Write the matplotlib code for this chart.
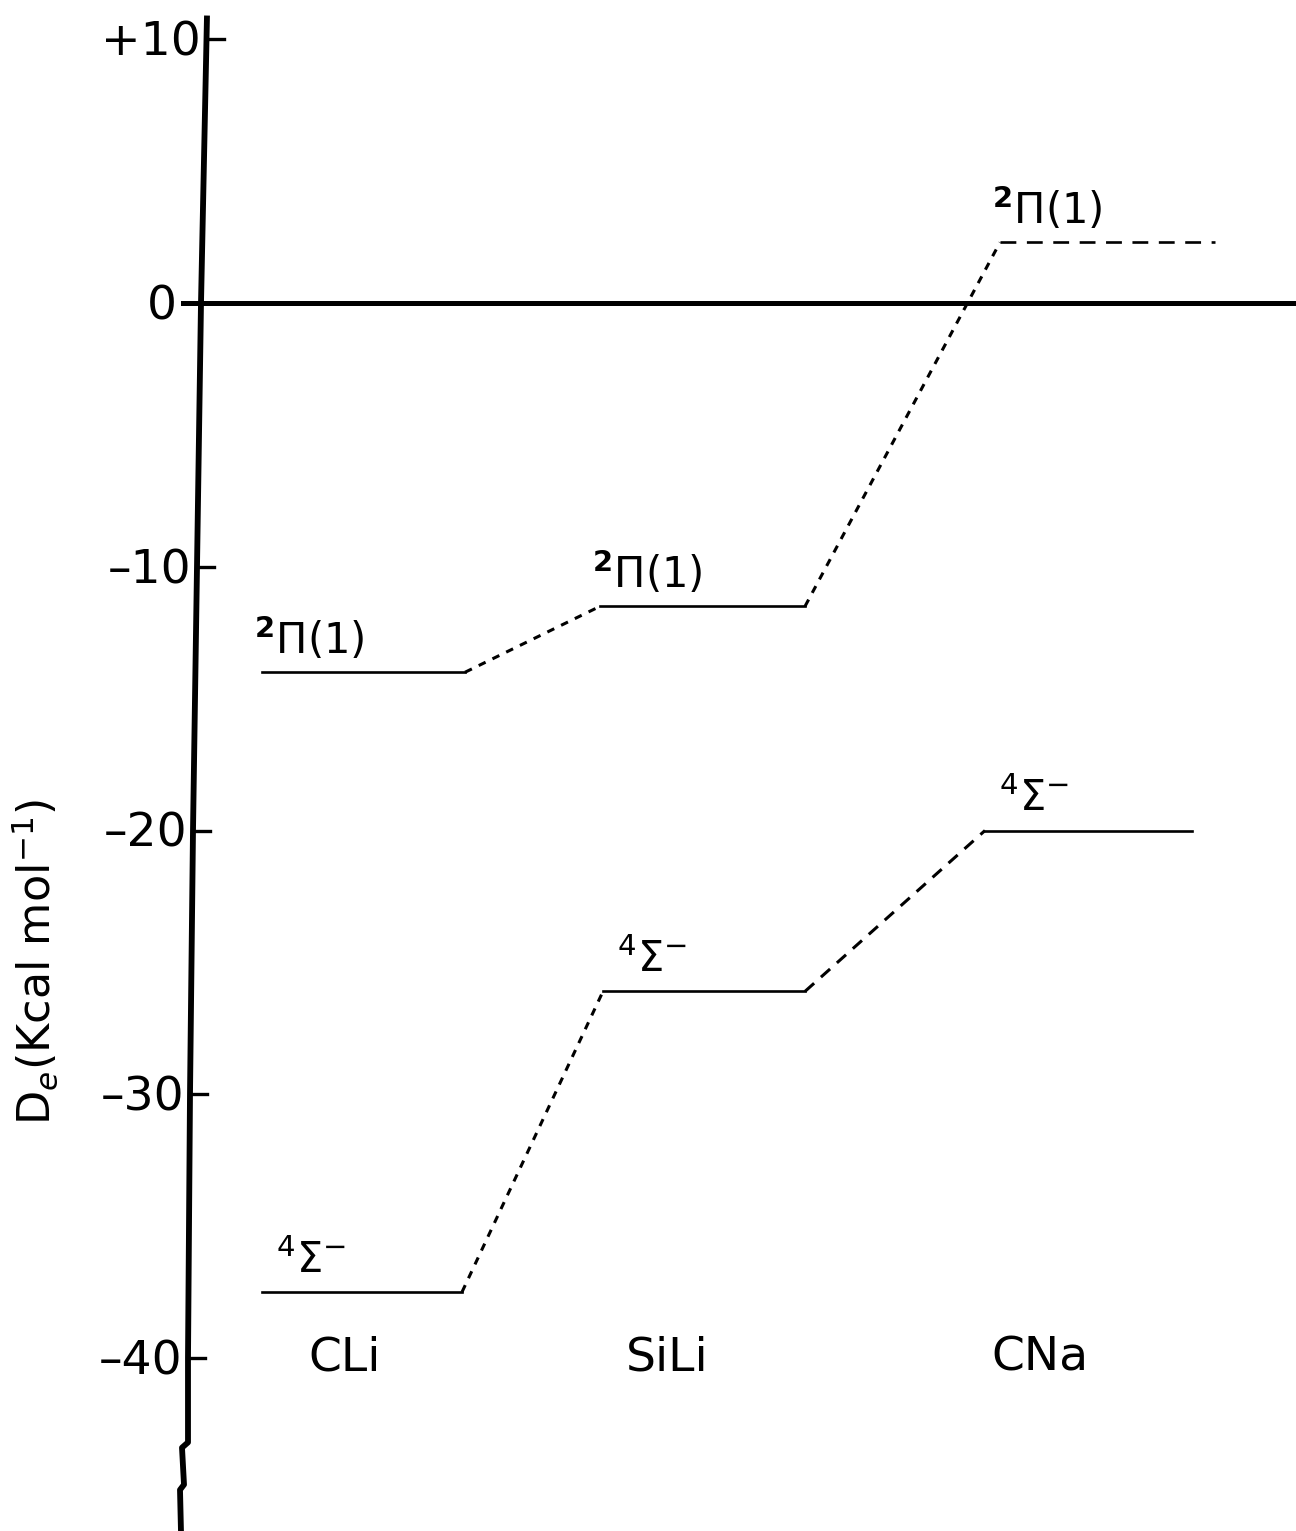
import matplotlib
matplotlib.use('Agg')
import matplotlib.pyplot as plt
import numpy as np

# energies in kcal/mol
molecules = ['CLi', 'SiLi', 'CNa']
pi_energy = [-14.0, -11.5, 2.3]
sigma_energy = [-37.5, -26.1, -20.0]
pi_label = r'$^{\mathbf{2}}\Pi(1)$'
sigma_label = r'$^{4}\Sigma^{-}$'
ytick_values = [10, 0, -10, -20, -30, -40]
ytick_labels = ['+10', '0', '\u201310', '\u201320', '\u201330', '\u201340']

# layout (x in pixels of the figure)
pi_x0 = [262, 600, 1000]
pi_x1 = [465, 805, 1215]
sig_x0 = [262, 603, 985]
sig_x1 = [462, 805, 1192]
mol_x = [345, 667, 1040]

plt.rcParams['font.family'] = ['DejaVu Sans']
plt.rcParams['mathtext.fontset'] = 'dejavusans'

fig = plt.figure(figsize=(12.96, 15.31), dpi=100)
ax = fig.add_axes([0, 0, 1, 1])
ax.set_xlim(0, 1296)
ax.set_ylim(-46.56, 11.49)
ax.axis('off')

# hand drawn vertical axis, slightly slanted with a jog at the bottom
axx = [207, 201, 197, 193, 190, 188, 188, 182, 184, 180, 181]
axy = [10.9, 0, -10, -20, -30, -40, -43.2, -43.4, -44.8, -45.0, -46.6]
ax.plot(axx, axy, color='black', lw=4.2, solid_capstyle='butt')

# zero line
ax.plot([183, 1296], [0, 0], color='black', lw=3.6)

# ticks and labels
for v, lab in zip(ytick_values, ytick_labels):
    xa = np.interp(v, axy[5::-1], axx[5::-1])
    if v != 0:
        ax.plot([xa, xa + 17], [v, v], color='black', lw=2.4)
        ax.text(xa - 6, v - 0.15, lab, ha='right', va='center', fontsize=34)
    else:
        ax.text(xa - 24, v - 0.15, lab, ha='right', va='center', fontsize=34)

# levels
for i in range(3):
    ls = (0, (6, 4)) if i == 2 else '-'
    ax.plot([pi_x0[i], pi_x1[i]], [pi_energy[i], pi_energy[i]], color='black', lw=1.9, ls=ls)
    ax.plot([sig_x0[i], sig_x1[i]], [sigma_energy[i], sigma_energy[i]], color='black', lw=1.9)
    ax.text(pi_x0[i] - 8, pi_energy[i] + 0.35, pi_label, ha='left', va='bottom', fontsize=30)
    ax.text(sig_x0[i] + 14, sigma_energy[i] + 0.4, sigma_label, ha='left', va='bottom', fontsize=30)
    ax.text(mol_x[i], -40, molecules[i], ha='center', va='center', fontsize=34)

# correlation lines between molecules
for i in range(2):
    ax.plot([pi_x1[i], pi_x0[i + 1]], [pi_energy[i], pi_energy[i + 1]],
            color='black', lw=2.2, ls=(0, (2.5, 2.5)))
    sty = (0, (2.5, 2.5)) if i == 0 else (0, (4, 3))
    ax.plot([sig_x1[i], sig_x0[i + 1]], [sigma_energy[i], sigma_energy[i + 1]],
            color='black', lw=2.2, ls=sty)

ax.text(35, -25.0, r'D$_e$(Kcal mol$^{-1}$)', rotation=90, ha='center', va='center', fontsize=32)

fig.savefig('out.png', dpi=100)
